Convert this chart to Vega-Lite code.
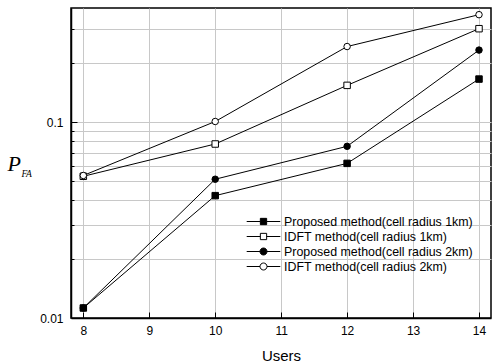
{
  "$schema": "https://vega.github.io/schema/vega-lite/v6.json",
  "width": 420,
  "height": 310,
  "autosize": {"type": "none"},
  "padding": {"left": 71, "top": 8, "right": 1, "bottom": 44},
  "background": "white",
  "config": {
    "view": {"stroke": "black", "strokeWidth": 1.5},
    "axis": {"labelFont": "Liberation Sans", "labelColor": "black", "titleColor": "black", "domainColor": "black", "tickColor": "black", "gridColor": "#c8c8c8", "gridWidth": 1}
  },
  "data": {
    "values": [
      {"users": 8, "value": 0.01125, "series": "Proposed method(cell radius 1km)", "radius": "1km"},
      {"users": 10, "value": 0.0422, "series": "Proposed method(cell radius 1km)", "radius": "1km"},
      {"users": 12, "value": 0.0617, "series": "Proposed method(cell radius 1km)", "radius": "1km"},
      {"users": 14, "value": 0.1664, "series": "Proposed method(cell radius 1km)", "radius": "1km"},
      {"users": 8, "value": 0.053, "series": "IDFT method(cell radius 1km)", "radius": "1km"},
      {"users": 10, "value": 0.0775, "series": "IDFT method(cell radius 1km)", "radius": "1km"},
      {"users": 12, "value": 0.1545, "series": "IDFT method(cell radius 1km)", "radius": "1km"},
      {"users": 14, "value": 0.301, "series": "IDFT method(cell radius 1km)", "radius": "1km"},
      {"users": 8, "value": 0.01125, "series": "Proposed method(cell radius 2km)", "radius": "2km"},
      {"users": 10, "value": 0.0512, "series": "Proposed method(cell radius 2km)", "radius": "2km"},
      {"users": 12, "value": 0.0754, "series": "Proposed method(cell radius 2km)", "radius": "2km"},
      {"users": 14, "value": 0.234, "series": "Proposed method(cell radius 2km)", "radius": "2km"},
      {"users": 8, "value": 0.0535, "series": "IDFT method(cell radius 2km)", "radius": "2km"},
      {"users": 10, "value": 0.101, "series": "IDFT method(cell radius 2km)", "radius": "2km"},
      {"users": 12, "value": 0.244, "series": "IDFT method(cell radius 2km)", "radius": "2km"},
      {"users": 14, "value": 0.355, "series": "IDFT method(cell radius 2km)", "radius": "2km"}
    ]
  },
  "layer": [
    {
      "mark": {"type": "line", "color": "black", "strokeWidth": 1},
      "encoding": {
        "x": {
          "field": "users", "type": "quantitative",
          "scale": {"domain": [7.813, 14.182], "nice": false, "zero": false},
          "axis": {
            "values": [8, 8.5, 9, 9.5, 10, 10.5, 11, 11.5, 12, 12.5, 13, 13.5, 14],
            "labelExpr": "datum.value % 1 == 0 ? '' + datum.value : ''",
            "tickSize": {"condition": {"test": "datum.value % 1 == 0", "value": -6}, "value": -3},
            "gridOpacity": {"condition": {"test": "datum.value % 1 == 0", "value": 1}, "value": 0},
            "grid": true,
            "labelPadding": 13.8,
            "labelFontSize": 12,
            "domainWidth": 1.5,
            "title": "Users",
            "titleFont": "Liberation Sans",
            "titleFontSize": 15,
            "titleFontWeight": "normal",
            "titleBaseline": "alphabetic",
            "titleY": 42
          }
        },
        "y": {
          "field": "value", "type": "quantitative",
          "scale": {"type": "log", "domain": [0.01, 0.384], "nice": false},
          "axis": {
            "values": [0.01, 0.02, 0.03, 0.04, 0.05, 0.06, 0.07, 0.08, 0.09, 0.1, 0.2, 0.3],
            "labelExpr": "datum.value == 0.01 ? '0.01' : (datum.value == 0.1 ? '0.1' : '')",
            "tickSize": {"condition": {"test": "datum.value == 0.01 || datum.value == 0.1", "value": -6}, "value": -3},
            "grid": true,
            "labelPadding": 14,
            "labelFontSize": 12,
            "domainWidth": 1.5,
            "title": "P",
            "titleAngle": 0,
            "titleFont": "Liberation Serif",
            "titleFontStyle": "italic",
            "titleFontWeight": "normal",
            "titleFontSize": 22,
            "titleAlign": "left",
            "titleBaseline": "alphabetic",
            "titleX": -64,
            "titleY": 162
          }
        },
        "detail": {"field": "series"}
      }
    },
    {
      "mark": {"type": "point", "filled": true, "stroke": "black", "strokeWidth": 1, "size": 42, "opacity": 1},
      "encoding": {
        "x": {"field": "users", "type": "quantitative"},
        "y": {"field": "value", "type": "quantitative", "axis": null},
        "shape": {
          "field": "radius", "type": "nominal",
          "scale": {"domain": ["1km", "2km"], "range": ["square", "circle"]},
          "legend": null
        },
        "fill": {
          "field": "series", "type": "nominal",
          "scale": {
            "domain": ["Proposed method(cell radius 1km)", "IDFT method(cell radius 1km)", "Proposed method(cell radius 2km)", "IDFT method(cell radius 2km)"],
            "range": ["black", "white", "black", "white"]
          },
          "legend": {
            "orient": "none", "legendX": 185, "legendY": 206, "title": null,
            "labelFont": "Liberation Sans", "labelFontSize": 12.4, "labelColor": "black", "labelLimit": 0,
            "symbolSize": 196, "symbolStrokeWidth": 1, "symbolStrokeColor": "black",
            "symbolType": {"expr": "indexof(datum.value, '1km') >= 0 ? 'M-2.4,0H-0.45M0.45,0H2.4M-0.45,-0.45H0.45V0.45H-0.45Z' : 'M-2.4,0H-0.5M0.5,0H2.4M-0.5,0A0.5,0.5 0 1,1 0.5,0A0.5,0.5 0 1,1 -0.5,0Z'"},
            "rowPadding": 1, "labelOffset": 13, "padding": 0,
            "encode": {"symbols": {
              "stroke": {"value": "black"},
              "strokeWidth": {"value": 1}
            }}
          }
        }
      }
    },
    {
      "mark": {"type": "point", "opacity": 0},
      "encoding": {
        "x": {"field": "users", "type": "quantitative"},
        "y": {
          "field": "value", "type": "quantitative",
          "axis": {
            "orient": "left", "title": "FA", "labels": false, "ticks": false, "domain": false, "grid": false,
            "titleAngle": 0, "titleFont": "Liberation Serif", "titleFontStyle": "italic", "titleFontWeight": "normal",
            "titleFontSize": 9.5, "titleAlign": "left", "titleBaseline": "alphabetic", "titleX": -50, "titleY": 168
          }
        }
      }
    }
  ],
  "resolve": {"axis": {"y": "independent"}}
}
